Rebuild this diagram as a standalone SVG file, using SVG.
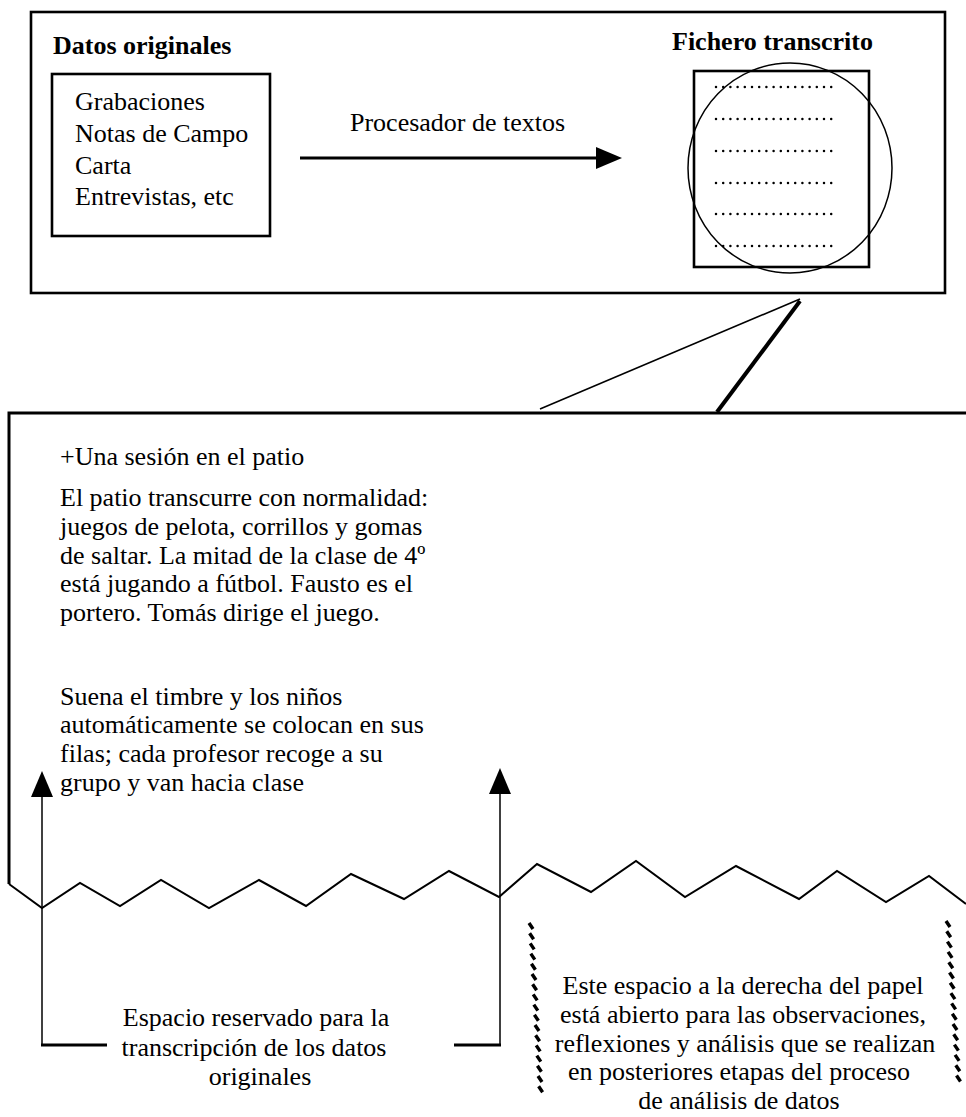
<svg xmlns="http://www.w3.org/2000/svg" width="966" height="1117" viewBox="0 0 966 1117">
<style>
text{font-family:"Liberation Serif","Times New Roman",serif;font-size:26px;fill:#000}
.b{font-weight:bold}
.m{text-anchor:middle}
.box{fill:none;stroke:#000;stroke-width:2.6}
.thin{fill:none;stroke:#000;stroke-width:1.5}
.dots{fill:none;stroke:#000;stroke-width:2.5;stroke-linecap:round;stroke-dasharray:0 7.2}
.hatch{fill:none;stroke:#000;stroke-width:3.4;stroke-linecap:butt}
</style>
<rect width="966" height="1117" fill="#fff"/>

<g id="top-frame">
<rect class="box" x="31" y="12" width="914" height="281"/>
</g>

<g id="datos-originales">
<text class="b" x="53" y="54">Datos originales</text>
<rect class="box" x="52" y="74" width="218" height="162"/>
<text x="75" y="110">Grabaciones</text>
<text x="75" y="142">Notas de Campo</text>
<text x="75" y="174">Carta</text>
<text x="75" y="205">Entrevistas, etc</text>
</g>

<g id="fichero-transcrito">
<text class="b" x="672" y="50">Fichero transcrito</text>
<rect class="box" x="694" y="71" width="175" height="196"/>
<ellipse class="thin" cx="790" cy="168" rx="102" ry="105"/>
<path class="dots" d="M716,87 H832 M716,119 H832 M716,151 H832 M716,183 H832 M716,214 H832 M716,246 H832"/>
</g>

<g id="connectors">
<line x1="300" y1="158" x2="598" y2="158" stroke="#000" stroke-width="3"/>
<path d="M596,147 L622,158 L596,169 Z" fill="#000"/>
<text x="350" y="131">Procesador de textos</text>
<line x1="540" y1="409" x2="800" y2="299" stroke="#000" stroke-width="1.6"/>
<line x1="717" y1="412" x2="800" y2="301" stroke="#000" stroke-width="4"/>
<line x1="42" y1="797" x2="42" y2="1045" stroke="#000" stroke-width="1.5"/>
<path d="M42,771 L31,797 L53,797 Z" fill="#000"/>
<line x1="500" y1="794" x2="500" y2="1045" stroke="#000" stroke-width="1.5"/>
<path d="M500,768 L489,794 L511,794 Z" fill="#000"/>
<line x1="41" y1="1045" x2="107" y2="1045" stroke="#000" stroke-width="3"/>
<line x1="454" y1="1045" x2="501" y2="1045" stroke="#000" stroke-width="3"/>
</g>

<g id="transcripcion">
<path d="M966,413 H9 V884" fill="none" stroke="#000" stroke-width="3"/>
<polyline fill="none" stroke="#000" stroke-width="2" stroke-linejoin="miter" points="9,884 42,908 80,883 120,906 161,880 209,908 259,880 306,906 351,874 404,899 449,871 499,897 537,864 591,892 636,861 685,897 736,866 799,899 837,871 886,902 929,876 966,904"/>
<text x="60" y="465">+Una sesión en el patio</text>
<text x="60" y="506">El patio transcurre con normalidad:</text>
<text x="60" y="535">juegos de pelota, corrillos y gomas</text>
<text x="60" y="564">de saltar. La mitad de la clase de 4º</text>
<text x="60" y="592">está jugando a fútbol. Fausto es el</text>
<text x="60" y="621">portero. Tomás dirige el juego.</text>
<text x="60" y="705">Suena el timbre y los niños</text>
<text x="60" y="733">automáticamente se colocan en sus</text>
<text x="60" y="762">filas; cada profesor recoge a su</text>
<text x="60" y="791">grupo y van hacia clase</text>
</g>

<g id="espacio-reservado">
<text class="m" x="256" y="1026">Espacio reservado para la</text>
<text class="m" x="254" y="1056">transcripción de los datos</text>
<text class="m" x="260" y="1085">originales</text>
</g>

<g id="espacio-derecha">
<path class="hatch" d="M529,923 l4,6 M529.6,933.2 l4,6 M530.2,943.4 l4,6 M530.8,953.6 l4,6 M531.4,963.8 l4,6 M532,974 l4,6 M532.6,984.2 l4,6 M533.2,994.4 l4,6 M533.8,1004.6 l4,6 M534.4,1014.8 l4,6 M535,1025 l4,6 M535.6,1035.2 l4,6 M536.2,1045.4 l4,6 M536.8,1055.6 l4,6 M537.4,1065.8 l4,6 M538,1076 l4,6 M538.6,1086.2 l4,6"/>
<path class="hatch" d="M946,921 l4,6 M946.7,931.3 l4,6 M947.4,941.6 l4,6 M948.1,951.9 l4,6 M948.8,962.2 l4,6 M949.5,972.5 l4,6 M950.2,982.8 l4,6 M950.9,993.1 l4,6 M951.6,1003.4 l4,6 M952.3,1013.7 l4,6 M953,1024 l4,6 M953.7,1034.3 l4,6 M954.4,1044.6 l4,6 M955.1,1054.9 l4,6 M955.8,1065.2 l4,6 M956.5,1075.5 l4,6"/>
<text class="m" x="743" y="994">Este espacio a la derecha del papel</text>
<text class="m" x="743" y="1023">está abierto para las observaciones,</text>
<text class="m" x="745" y="1052">reflexiones y análisis que se realizan</text>
<text class="m" x="739" y="1080">en posteriores etapas del proceso</text>
<text class="m" x="739" y="1109">de análisis de datos</text>
</g>
</svg>
